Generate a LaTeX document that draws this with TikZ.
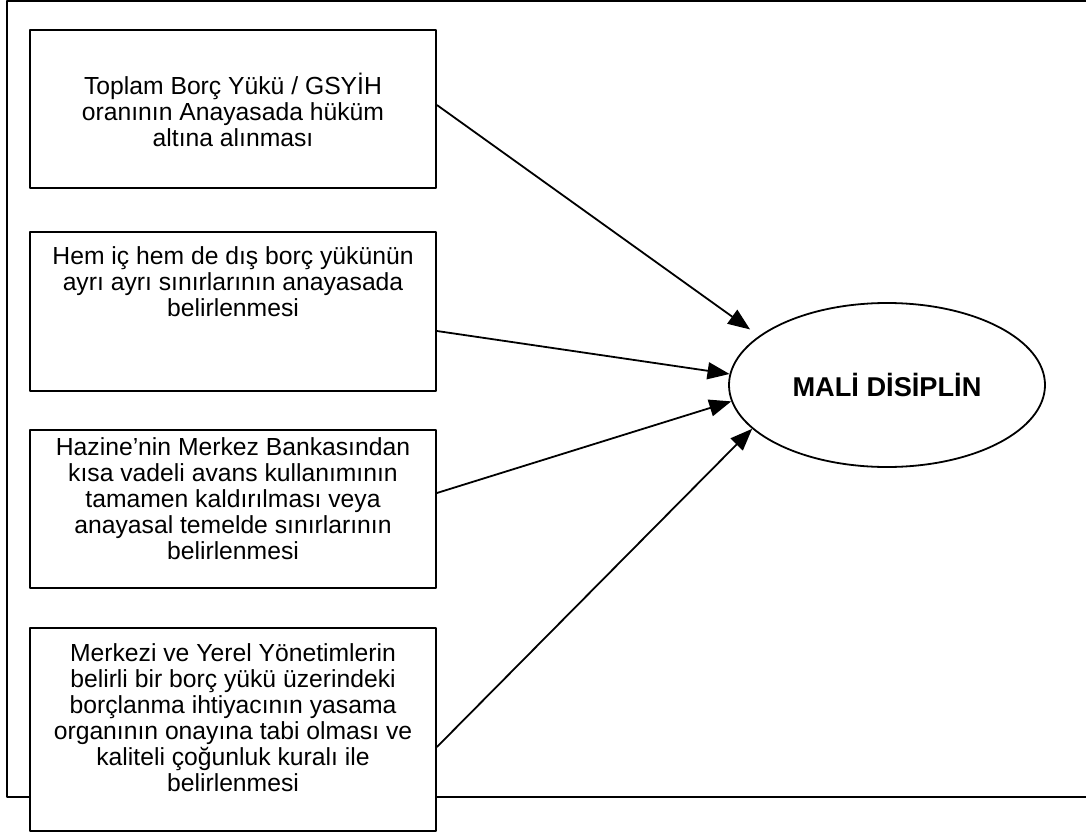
\documentclass[tikz,border=0pt]{standalone}
\usepackage{fontspec}
\setmainfont{Liberation Sans}
\usetikzlibrary{arrows.meta,shapes.geometric,calc}
\begin{document}
\begin{tikzpicture}[x=0.5pt,y=-0.5pt,>={Triangle[length=11pt,width=8.5pt]},line join=round,line width=0.9pt,
				font=\fontsize{12.35pt}{13pt}\selectfont,
				box/.style={draw,fill=white,rectangle,minimum width=203pt,inner sep=0pt},
				txt/.style={align=center,inner sep=0pt}]
				\useasboundingbox (0,0) rectangle (1086,834);
				\path
				(233,109) coordinate (B1)
				(233,311.5) coordinate (B2)
				(233,509) coordinate (B3)
				(233,729.5) coordinate (B4)
				(887,385) coordinate (M)
				;
				\draw (1086,1)--(7,1)--(7,797)--(1086,797);
				\node[box,minimum height=79pt] (b1) at (B1) {};
				\node[box,minimum height=79.5pt] (b2) at (B2) {};
				\node[box,minimum height=79pt] (b3) at (B3) {};
				\node[box,minimum height=101.5pt] (b4) at (B4) {};
				\node[txt] (t1) at (233,109.5) {Toplam Borç Yükü / GSYİH\\oranının Anayasada hüküm\\altına alınması};
				\node[txt] (t2) at (233,282) {Hem iç hem de dış borç yükünün\\ayrı ayrı sınırlarının anayasada\\belirlenmesi};
				\node[txt] (t3) at (233,499) {Hazine’nin Merkez Bankasından\\kısa vadeli avans kullanımının\\tamamen kaldırılması veya\\anayasal temelde sınırlarının\\belirlenmesi};
				\node[txt] (t4) at (233,717.5) {Merkezi ve Yerel Yönetimlerin\\belirli bir borç yükü üzerindeki\\borçlanma ihtiyacının yasama\\organının onayına tabi olması ve\\kaliteli çoğunluk kuralı ile\\belirlenmesi};
				\node[draw,ellipse,minimum width=158pt,minimum height=82pt,inner sep=0pt,font=\fontsize{13.6pt}{15pt}\selectfont\bfseries] (m) at (M) {MALİ DİSİPLİN};
				\foreach \b/\d/\a/\s in {b1/-4/159/5.5,b2/19.5/176/0,b3/-16/186/0,b4/17.5/198/0}\draw[->,shorten >=\s pt] ($(\b.east)+(0,\d)$)--(m.\a);
			\end{tikzpicture}
\end{document}
